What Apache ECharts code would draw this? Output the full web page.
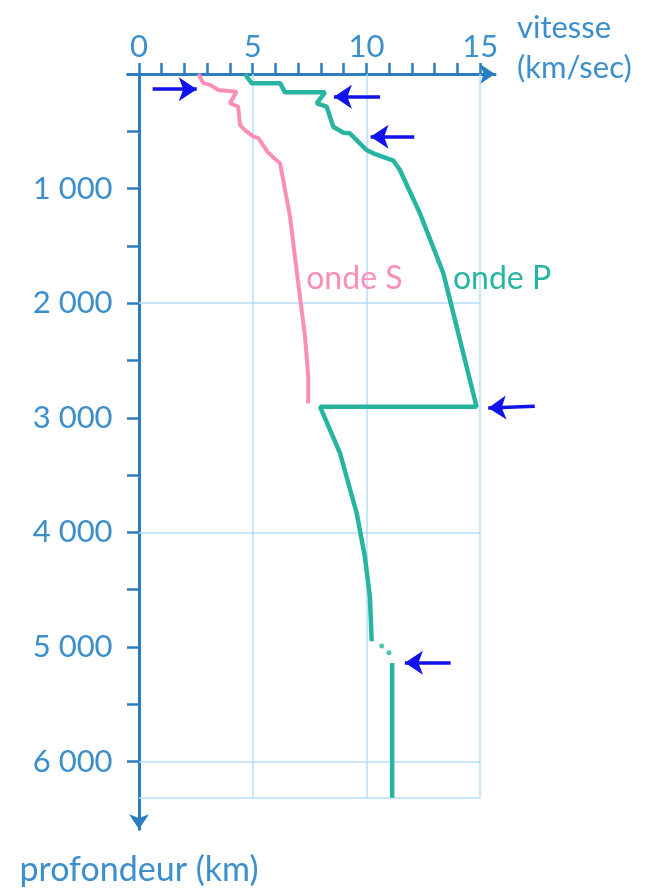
<!DOCTYPE html>
<html lang="fr">
<head>
<meta charset="utf-8">
<title>Vitesse des ondes sismiques</title>
<script src="https://cdn.jsdelivr.net/npm/echarts@6/dist/echarts.min.js"></script>
<style>
  html, body { margin: 0; padding: 0; background: #fff; }
  #chart { width: 654px; height: 890px; }
</style>
</head>
<body>
<div id="chart"></div>
<script>
// points [vitesse (km/s), profondeur (km)]
const sWave = [
  [2.61, 0], [2.83, 80], [3.12, 95], [3.49, 140], [4.29, 155], [4.0, 255],
  [4.36, 285], [4.44, 445], [4.66, 490], [5.02, 545], [5.25, 560], [5.65, 680],
  [6.2, 780], [6.42, 1010], [6.64, 1245], [7.0, 1826], [7.3, 2292], [7.44, 2641],
  [7.44, 2875],
];
const pWaveMantle = [
  [4.66, 0], [4.95, 81], [6.2, 80], [6.42, 160], [8.18, 160], [7.81, 256],
  [8.25, 285], [8.54, 460], [8.98, 512], [9.27, 518], [10.0, 663], [10.3, 692],
  [11.18, 755], [11.47, 838], [12.35, 1216], [13.38, 1739], [13.6, 1914],
  [14.84, 2903], [7.96, 2903], [8.84, 3310], [9.57, 3833], [9.93, 4212],
  [10.15, 4561], [10.23, 4950],
];
const pWaveGap = [[10.67, 4991], [10.99, 5050]];
const pWaveCore = [[11.13, 5140], [11.13, 6315]];

const xTicks = [0, 1, 2, 3, 4, 5, 6, 7, 8, 9, 10, 11, 12, 13, 14, 15];
const xLabels = [0, 5, 10, 15];
const yTicks = [500, 1000, 1500, 2000, 2500, 3000, 3500, 4000, 4500, 5000, 5500, 6000];
const yLabels = [1000, 2000, 3000, 4000, 5000, 6000];
const gridSpeeds = [5, 10, 15];
const gridDepths = [2000, 4000, 6000, 6315];
const earthBottom = 6315;

// flèches bleues : [départ, pointe]
const arrowLines = [
  [[0.6, 133], [2.54, 133]],
  [[10.6, 198], [8.57, 198]],
  [[12.1, 547], [10.18, 547]],
  [[17.4, 2900], [15.35, 2915]],
  [[13.7, 5137], [11.69, 5137]],
];

const waveNames = ["onde S", "onde P"];
const waveNameSpots = [[7.0, 1790], [13.45, 1790]];

const axisColor = "#2b7dbf";
const textColor = "#3b8fcc";
const gridColor = "#b6dcf7";
const pColor = "#27b5a1";
const sColor = "#f98fb6";
const arrowColor = "#1212ea";
const font = "Lato";

const chart = echarts.init(document.getElementById("chart"));

const fmtDepth = (v) => String(v).replace(/\B(?=(\d{3})+$)/, " ");

chart.setOption({
  animation: false,
  grid: { left: 127.6, top: 74, width: 367.4, height: 755.2, outerBoundsMode: "none" },
  xAxis: {
    type: "value",
    position: "top",
    min: -0.5,
    max: 15.65,
    // ligne vide en bas pour remonter le nom au-dessus de l'axe
    name: "{n|vitesse}\n{n|(km/sec)}\n{gap| }",
    nameLocation: "end",
    nameGap: 22,
    nameTextStyle: {
      align: "left",
      verticalAlign: "middle",
      rich: {
        n: { color: textColor, fontSize: 31, fontFamily: font, lineHeight: 40 },
        gap: { fontSize: 10, lineHeight: 52 },
      },
    },
    axisLine: { show: true, onZero: true, symbol: ["none", "arrow"], symbolSize: [15, 15], lineStyle: { color: axisColor, width: 3 } },
    axisTick: { show: true, customValues: xTicks, length: 11, lineStyle: { color: axisColor, width: 2.5 } },
    axisLabel: { customValues: xLabels, margin: 12, color: textColor, fontSize: 31, fontFamily: font },
    splitLine: { show: false },
  },
  yAxis: {
    type: "value",
    inverse: true,
    min: 0,
    max: 6590,
    name: "profondeur (km)",
    nameLocation: "end",
    nameGap: 24,
    nameTextStyle: { color: textColor, fontSize: 34, fontFamily: font, align: "center", verticalAlign: "top" },
    axisLine: { show: true, onZero: true, symbol: ["arrow", "none"], symbolSize: [15, 15], lineStyle: { color: axisColor, width: 3 } },
    axisTick: { show: true, customValues: yTicks, length: 12, lineStyle: { color: axisColor, width: 2.5 } },
    axisLabel: { customValues: yLabels, margin: 15, color: textColor, fontSize: 31, fontFamily: font, formatter: fmtDepth },
    splitLine: { show: false },
  },
  series: [
    {
      // quadrillage, sous les courbes
      name: "grille",
      type: "line",
      data: [],
      z: 1,
      markLine: {
        z: 1,
        silent: true,
        symbol: ["none", "none"],
        label: { show: false },
        lineStyle: { color: gridColor, width: 1.5, type: "solid" },
        emphasis: { disabled: true },
        data: [
          ...gridSpeeds.map((v) => [{ coord: [v, 0] }, { coord: [v, earthBottom] }]),
          ...gridDepths.map((d) => [{ coord: [0, d] }, { coord: [15, d] }]),
        ],
      },
    },
    {
      name: "onde S",
      type: "line",
      data: sWave,
      z: 3,
      showSymbol: false,
      silent: true,
      lineStyle: { color: sColor, width: 4 },
      markPoint: {
        symbolSize: 0,
        silent: true,
        label: { show: true, position: "right", distance: 8, formatter: waveNames[0], color: sColor, fontSize: 32, fontFamily: font },
        data: [{ coord: waveNameSpots[0] }],
      },
    },
    {
      name: "onde P",
      type: "line",
      data: pWaveMantle,
      z: 3,
      showSymbol: false,
      silent: true,
      lineStyle: { color: pColor, width: 4.5 },
      markPoint: {
        symbolSize: 0,
        silent: true,
        label: { show: true, position: "right", distance: 8, formatter: waveNames[1], color: pColor, fontSize: 32, fontFamily: font },
        data: [{ coord: waveNameSpots[1] }],
      },
    },
    {
      name: "onde P noyau",
      type: "line",
      data: pWaveCore,
      z: 3,
      showSymbol: false,
      silent: true,
      lineStyle: { color: pColor, width: 4.5 },
    },
    {
      name: "onde P pointillés",
      type: "scatter",
      data: pWaveGap,
      z: 3,
      symbolSize: 5,
      silent: true,
      itemStyle: { color: pColor },
    },
    {
      name: "flèches",
      type: "lines",
      coordinateSystem: "cartesian2d",
      z: 4,
      clip: false,
      silent: true,
      symbol: ["none", "arrow"],
      symbolSize: [15, 18],
      lineStyle: { color: arrowColor, width: 3.5, opacity: 1, curveness: 0 },
      data: arrowLines.map((c) => ({ coords: c })),
    },
  ],
});
</script>
</body>
</html>
